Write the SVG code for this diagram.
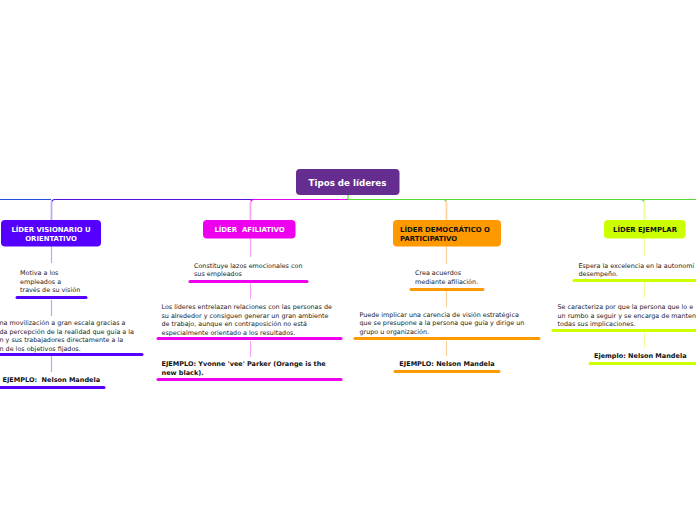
<svg xmlns="http://www.w3.org/2000/svg" width="696" height="520" viewBox="0 0 696 520">
<style>
.t{font-family:"DejaVu Sans","Verdana",sans-serif;font-size:6.4px;fill:#222}
.b{font-family:"DejaVu Sans","Verdana",sans-serif;font-size:6.5px;font-weight:bold;fill:#111}
.nw{font-family:"DejaVu Sans","Verdana",sans-serif;font-size:6.9px;font-weight:bold;fill:#fff}
.nk{font-family:"DejaVu Sans","Verdana",sans-serif;font-size:6.9px;font-weight:bold;fill:#111}
.u{stroke-width:3;stroke-linecap:round;fill:none}
.c{fill:none;stroke-width:1.2}
</style>
<rect width="696" height="520" fill="#fff"/>
<g id="connectors">
<path class="c" d="M0 199.5H51" stroke="#2050d8"/>
<path class="c" d="M348 199.5H55Q51.5 199.5 51.5 203V220" stroke="#5010e0"/>
<path class="c" d="M348 199.5H254Q250.5 199.5 250.5 203V220" stroke="#e000ee"/>
<path class="c" d="M348 199.5H443Q446.5 199.5 446.5 203V220" stroke="#55dd33"/>
<path class="c" d="M443 199.5H640Q644.5 199.5 644.5 203V220" stroke="#55dd33"/>
<path class="c" d="M640 199.5H696" stroke="#55dd33"/>
<path class="c" d="M348 195V199.5" stroke="#55dd33" stroke-width="2"/>
<g stroke="#b9a4ff" stroke-width="1.2">
<path d="M51.5 201V220M51.5 246V263M51.5 300V316M51.5 356V372"/>
</g>
<g stroke="#f5a3f5" stroke-width="1.2">
<path d="M250.5 201V220M250.5 238V257M250.5 283V299M250.5 341V357"/>
</g>
<g stroke="#ffd199" stroke-width="1.2">
<path d="M446.5 201V220M446.5 246V264M446.5 291V307M446.5 341V356"/>
</g>
<g stroke="#eeffa0" stroke-width="1.2">
<path d="M644.5 201V220M644.5 238V256M644.5 282V298M644.5 332V348"/>
</g>
</g>
<g id="root">
<rect x="296" y="169" width="103.5" height="26" rx="4" fill="#662d91"/>
<text x="347.5" y="185.5" text-anchor="middle" font-family="DejaVu Sans,Verdana,sans-serif" font-size="8.7" font-weight="bold" fill="#fff">Tipos de líderes</text>
</g>
<g id="n1">
<rect x="1" y="220" width="100" height="26.5" rx="4" fill="#5500ff"/>
<text class="nw" text-anchor="middle"><tspan x="51" y="231.5">LÍDER VISIONARIO U</tspan><tspan x="51" y="240.5">ORIENTATIVO</tspan></text>
</g>
<g id="n1a">
<text class="t"><tspan x="20" y="275">Motiva a los</tspan><tspan x="20" y="283.5">empleados a</tspan><tspan x="20" y="292">través de su visión</tspan></text>
<path class="u" d="M17 297.5H86" stroke="#5500ff"/>
</g>
<g id="n1b">
<text class="t"><tspan x="-0.5" y="325">na movilización a gran escala gracias a</tspan><tspan x="-0.5" y="333.5">da percepción de la realidad que guía a la</tspan><tspan x="-0.5" y="342">n y sus trabajadores directamente a la</tspan><tspan x="-0.5" y="350.5">n de los objetivos fijados.</tspan></text>
<path class="u" d="M0 354.5H142" stroke="#5500ff"/>
</g>
<g id="n1c">
<text class="b" x="2.5" y="382" xml:space="preserve">EJEMPLO:  Nelson Mandela</text>
<path class="u" d="M0 387.5H104" stroke="#5500ff"/>
</g>
<g id="n2">
<rect x="203" y="220" width="92.5" height="18.5" rx="4" fill="#ee00ee"/>
<text class="nw" x="249.5" y="231.8" text-anchor="middle" xml:space="preserve">LÍDER  AFILIATIVO</text>
</g>
<g id="n2a">
<text class="t"><tspan x="194" y="267.5">Constituye lazos emocionales con</tspan><tspan x="194" y="276">sus empleados</tspan></text>
<path class="u" d="M190 281.5H307" stroke="#ee00ee"/>
</g>
<g id="n2b">
<text class="t"><tspan x="161.5" y="309">Los líderes entrelazan relaciones con las personas de</tspan><tspan x="161.5" y="317.5">su alrededor y consiguen generar un gran ambiente</tspan><tspan x="161.5" y="326">de trabajo, aunque en contraposición no está</tspan><tspan x="161.5" y="334.5">especialmente orientado a los resultados.</tspan></text>
<path class="u" d="M158 338.5H341" stroke="#ee00ee"/>
</g>
<g id="n2c">
<text class="b"><tspan x="161.5" y="366">EJEMPLO: Yvonne 'vee' Parker (Orange is the</tspan><tspan x="161.5" y="374.5">new black).</tspan></text>
<path class="u" d="M158 379.5H341" stroke="#ee00ee"/>
</g>
<g id="n3">
<rect x="393" y="220" width="108" height="26.5" rx="4" fill="#ff9900"/>
<text class="nk"><tspan x="400" y="231.5">LÍDER DEMOCRÁTICO O</tspan><tspan x="400" y="240.5">PARTICIPATIVO</tspan></text>
</g>
<g id="n3a">
<text class="t"><tspan x="415" y="275">Crea acuerdos</tspan><tspan x="415" y="283.5">mediante afiliación.</tspan></text>
<path class="u" d="M411 289.5H483" stroke="#ff9900"/>
</g>
<g id="n3b">
<text class="t"><tspan x="359.5" y="316.5">Puede implicar una carencia de visión estratégica</tspan><tspan x="359.5" y="325">que se presupone a la persona que guía y dirige un</tspan><tspan x="359.5" y="333.5">grupo u organización.</tspan></text>
<path class="u" d="M355 338.5H539" stroke="#ff9900"/>
</g>
<g id="n3c">
<text class="b" x="447" y="366" text-anchor="middle">EJEMPLO: Nelson Mandela</text>
<path class="u" d="M395 371.5H499" stroke="#ff9900"/>
</g>
<g id="n4">
<rect x="604" y="220" width="81.5" height="18.5" rx="4" fill="#ccff00"/>
<text class="nk" x="645" y="231.8" text-anchor="middle">LÍDER EJEMPLAR</text>
</g>
<g id="n4a">
<text class="t"><tspan x="578.5" y="267.5">Espera la excelencia en la autonomí</tspan><tspan x="578.5" y="276">desempeño.</tspan></text>
<path class="u" d="M574 280.5H697" stroke="#ccff00"/>
</g>
<g id="n4b">
<text class="t"><tspan x="557.5" y="309">Se caracteriza por que la persona que lo e</tspan><tspan x="557.5" y="317.5">un rumbo a seguir y se encarga de manten</tspan><tspan x="557.5" y="326">todas sus implicaciones.</tspan></text>
<path class="u" d="M553 330.5H697" stroke="#ccff00"/>
</g>
<g id="n4c">
<text class="b" x="594" y="358">Ejemplo: Nelson Mandela</text>
<path class="u" d="M590 363.5H697" stroke="#ccff00"/>
</g>
</svg>
